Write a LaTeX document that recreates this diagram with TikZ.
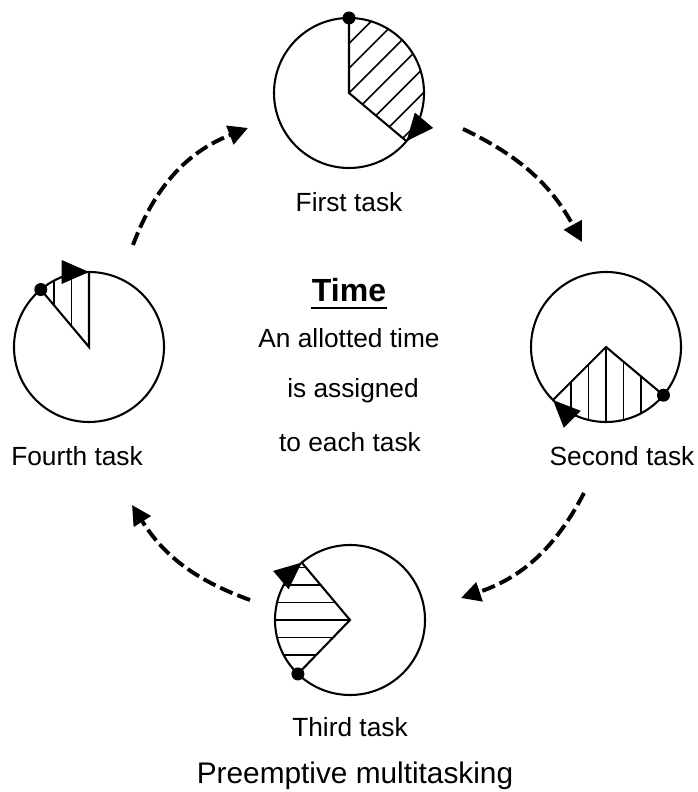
\documentclass[tikz,border=0pt]{standalone}
\usepackage{fontspec}
\setmainfont{Liberation Sans}
\usetikzlibrary{arrows.meta,calc,positioning}

\begin{document}
\begin{tikzpicture}[x=0.0135cm,y=0.0135cm,
	clockline/.style={line width=0.8pt},
	hatch/.style={line width=0.6pt},
	flow/.style={line width=1.5pt,dash pattern=on 5.2pt off 2pt,-{Triangle[length=7.5pt,width=7.5pt]}},
	turn/.style={line width=0.8pt,-{Triangle[length=10.5pt,width=9pt]}},
	task/.style={font=\fontsize{10.1pt}{12pt}\selectfont,inner sep=0pt,anchor=base}]
	\useasboundingbox (0,0) rectangle (697,792);
	\coordinate (c1) at (349,699);
	\coordinate (c2) at (606,445);
	\coordinate (c3) at (350,172);
	\coordinate (c4) at (89,445);

	% first task
	\begin{scope}
		\clip (c1) -- ++(90:75) arc (90:-40:75) -- cycle;
		\foreach \k in {-6,...,6}
			\draw[hatch] ($(c1)+(135:\k*17.5)$) ++(225:110) -- ++(45:220);
	\end{scope}
	\draw[clockline] (c1) circle (75);
	\draw[clockline] ($(c1)+(90:75)$) -- (c1) -- ($(c1)+(-40:75)$);
	\draw[turn] ($(c1)+(-20:75)$) arc (-20:-40:75);
	\fill ($(c1)+(90:75)$) circle (6.5);

	% second task
	\begin{scope}
		\clip (c2) -- ++(-40:75) arc (-40:-135:75) -- cycle;
		\foreach \k in {-5,...,5}
			\draw[hatch] ($(c2)+(\k*17.5,0)$) ++(0,-100) -- ++(0,200);
	\end{scope}
	\draw[clockline] (c2) circle (75);
	\draw[clockline] ($(c2)+(-40:75)$) -- (c2) -- ($(c2)+(-135:75)$);
	\draw[turn] ($(c2)+(-115:75)$) arc (-115:-135:75);
	\fill ($(c2)+(-40:75)$) circle (6.5);

	% third task
	\begin{scope}
		\clip (c3) -- ++(226:75) arc (226:130:75) -- cycle;
		\foreach \k in {-5,...,5}
			\draw[hatch] ($(c3)+(0,\k*17.5)$) ++(-100,0) -- ++(200,0);
	\end{scope}
	\draw[clockline] (c3) circle (75);
	\draw[clockline] ($(c3)+(226:75)$) -- (c3) -- ($(c3)+(130:75)$);
	\draw[turn] ($(c3)+(150:75)$) arc (150:130:75);
	\fill ($(c3)+(226:75)$) circle (6.5);

	% fourth task
	\begin{scope}
		\clip (c4) -- ++(130:75) arc (130:90:75) -- cycle;
		\foreach \k in {-5,...,1}
			\draw[hatch] ($(c4)+(\k*17.5,0)$) ++(0,-100) -- ++(0,200);
	\end{scope}
	\draw[clockline] (c4) circle (75);
	\draw[clockline] ($(c4)+(130:75)$) -- (c4) -- ($(c4)+(90:75)$);
	\draw[turn] ($(c4)+(112:75)$) arc (112:90:75);
	\fill ($(c4)+(130:75)$) circle (6.5);

	\node[task] (first) at (349,580) {First task};
	\node[task] (second) at (622,326) {Second task};
	\node[task] (third) at (350,55) {Third task};
	\node[task] (fourth) at (77,326) {Fourth task};

	\node[task,font=\bfseries\fontsize{12.3pt}{14pt}\selectfont] (time) at (349,490) {Time};
	\draw[line width=1.1pt] ($(time.base west)+(0,-6)$) -- ($(time.base east)+(0,-6)$);
	\node[task] (allot) at (349,444) {An allotted time};
	\node[task] (assign) at (353,394) {is assigned};
	\node[task] (each) at (350,340) {to each task};

	\node[task,font=\fontsize{11.45pt}{14pt}\selectfont] (title) at (355,9) {Preemptive multitasking};

	% round robin
	\coordinate (from4) at (133,547);
	\coordinate (to1) at (248,664);
	\coordinate (from1) at (463,663);
	\coordinate (to2) at (582,550);
	\coordinate (from2) at (584,299);
	\coordinate (to3) at (461,194);
	\coordinate (from3) at (250,192);
	\coordinate (to4) at (132,287);
	\draw[flow] (from4) to[bend left=24] (to1);
	\draw[flow] (from1) to[bend left=18] (to2);
	\draw[flow] (from2) to[bend left=22] (to3);
	\draw[flow] (from3) to[bend left=19] (to4);
\end{tikzpicture}
\end{document}
